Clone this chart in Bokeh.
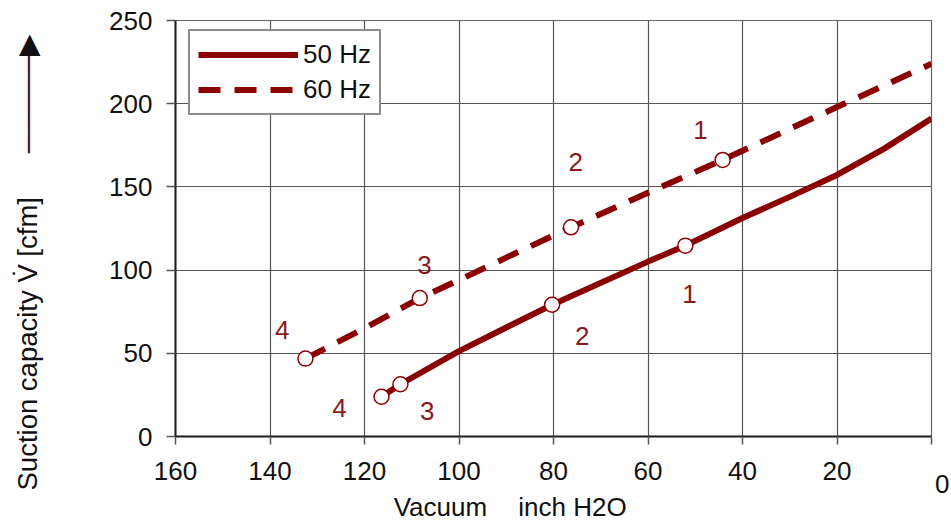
from bokeh.plotting import figure
from bokeh.models import Range1d, FixedTicker, Title
from bokeh.embed import file_html
from bokeh.resources import INLINE
from bokeh.core.properties import value

# ---- data ----
x_ticks = [0, 20, 40, 60, 80, 100, 120, 140, 160]
y_ticks = [0, 50, 100, 150, 200, 250]

vac_50 = [116.4, 112.4, 100, 90, 80.3, 60, 52.1, 40, 30, 20, 10, 0]
cap_50 = [23.9, 31.4, 51.3, 65.5, 79.2, 105.1, 114.7, 131.3, 144, 157.2, 173, 191.1]

vac_60 = [132.5, 120, 108.3, 100, 90, 76.3, 60, 44.2, 20, 0]
cap_60 = [46.8, 65, 83.2, 94, 107.5, 125.7, 146.5, 166.2, 198, 224]

pts50_x = [116.4, 112.4, 80.3, 52.1]
pts50_y = [23.9, 31.4, 79.2, 114.7]
pts60_x = [132.5, 108.3, 76.3, 44.2]
pts60_y = [46.8, 83.2, 125.7, 166.2]

pt_names = ["1", "2", "3", "4"]
lab60_x = [48.9, 75.3, 107.3, 137.4]
lab60_y = [184.1, 165, 102.8, 63.9]
lab50_x = [51.2, 73.9, 106.7, 125.3]
lab50_y = [85.4, 60.3, 15.4, 17.2]

x_title = "Vacuum" + "\u00a0" * 4 + "\u200a" + "inch H2O"
y_title = "Suction capacity V\u0307 [cfm]"
y_arrow = "\u2500" * 5 + "\u25b6"

RED = "#8B0000"
LABRED = "#8B1A1A"
INK = "#111111"
FONT = "Liberation Sans"
FS = "26px"
W, H = 951, 525
FL, FR, FT, FB = 175, 931, 20, 437  # frame edges in canvas pixels

p = figure(width=W, height=H, output_backend="svg", toolbar_location=None,
           x_range=Range1d(160, 0), y_range=Range1d(0, 250),
           min_border_left=FL, min_border_right=W - FR, min_border_top=FT,
           min_border_bottom=H - FB)
p.background_fill_color = "white"
p.border_fill_color = "white"
p.outline_line_color = "#666666"
p.outline_line_width = 1.2

for ax in (p.xaxis[0], p.yaxis[0]):
    ax.axis_line_color = "#1a1a1a"
    ax.axis_line_width = 2
    ax.major_tick_line_color = "#555555"
    ax.major_tick_line_width = 1.5
    ax.major_tick_in = 0
    ax.minor_tick_line_color = None
    ax.major_label_text_font = FONT
    ax.major_label_text_font_size = FS
    ax.major_label_text_color = INK

p.xaxis[0].ticker = FixedTicker(ticks=x_ticks)
p.yaxis[0].ticker = FixedTicker(ticks=y_ticks)
p.xaxis[0].major_tick_out = 8
p.yaxis[0].major_tick_out = 9
p.xaxis[0].major_label_standoff = 11
p.yaxis[0].major_label_standoff = 14
# the "0" label sits lower and to the right in the reference
p.xaxis[0].major_label_overrides = {0: "\u00a0\n\u00a0\u00a0\u00a00"}
p.xaxis[0].major_label_text_line_height = 0.45

# x axis title (shifted left of centre with trailing no-break spaces)
p.xaxis[0].axis_label = x_title + "\u00a0" * 12
p.xaxis[0].axis_label_text_font = FONT
p.xaxis[0].axis_label_text_font_size = FS
p.xaxis[0].axis_label_text_font_style = "normal"
p.xaxis[0].axis_label_text_color = INK
p.xaxis[0].axis_label_standoff = -10

p.xgrid[0].ticker = FixedTicker(ticks=x_ticks)
p.ygrid[0].ticker = FixedTicker(ticks=y_ticks)
for g in (p.xgrid[0], p.ygrid[0]):
    g.grid_line_color = "#555555"
    g.grid_line_width = 1.2

p.line(vac_50, cap_50, line_color=RED, line_width=6, legend_label="50 Hz")
p.line(vac_60, cap_60, line_color=RED, line_width=6, line_dash="22 14", legend_label="60 Hz")

p.scatter(pts50_x, pts50_y, marker="circle", size=15, fill_color="white",
          line_color=RED, line_width=1.5)
p.scatter(pts60_x, pts60_y, marker="circle", size=15, fill_color="white",
          line_color=RED, line_width=1.5)

p.text(lab60_x, lab60_y, text=pt_names, text_font=value(FONT), text_font_size=FS,
       text_color=LABRED, text_align="center", text_baseline="middle")
p.text(lab50_x, lab50_y, text=pt_names, text_font=value(FONT), text_font_size=FS,
       text_color=LABRED, text_align="center", text_baseline="middle")

leg = p.legend[0]
leg.location = (13, 321)
leg.border_line_color = "#1a1a1a"
leg.border_line_width = 2
leg.background_fill_alpha = 1
leg.padding = 8
leg.spacing = 4
leg.margin = 0
leg.glyph_width = 100
leg.glyph_height = 31
leg.label_height = 31
leg.label_standoff = 5
leg.label_text_font = FONT
leg.label_text_font_size = FS
leg.label_text_color = INK

# y axis title with its upward arrow: a left-side title, pushed outwards with blank lines
ytitle = Title(text=y_title + "\u00a0" * 5 + "\u2009" + y_arrow + "\n\u00a0\n\u00a0",
               align="left", offset=-54, vertical_align="top", standoff=0,
               text_font=FONT, text_font_size="27.5px", text_font_style="normal",
               text_color=INK)
p.add_layout(ytitle, "left")

open("out.html", "w").write(file_html(p, INLINE))
